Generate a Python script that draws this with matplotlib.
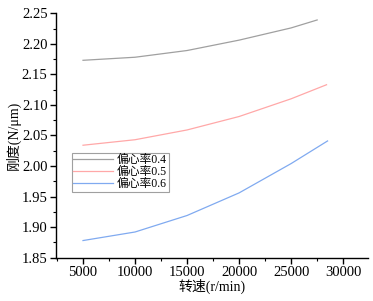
import matplotlib
matplotlib.use('Agg')
import matplotlib.pyplot as plt
from matplotlib.ticker import MultipleLocator, FormatStrFormatter

plt.rcParams['font.family'] = ['Liberation Serif', 'Noto Sans CJK SC']

# speed (r/min)
speed_04 = [5000, 10000, 15000, 20000, 25000, 27500]
speed_05 = [5000, 10000, 15000, 20000, 25000, 28400]
speed_06 = [5000, 10000, 15000, 20000, 25000, 28500]
# stiffness (N/um)
stiff_04 = [2.173, 2.178, 2.189, 2.206, 2.226, 2.239]
stiff_05 = [2.034, 2.043, 2.059, 2.081, 2.110, 2.133]
stiff_06 = [1.878, 1.892, 1.919, 1.956, 2.004, 2.041]
labels = ['偏心率0.4', '偏心率0.5', '偏心率0.6']

fig = plt.figure(figsize=(3.73, 3.01), dpi=100)
ax = fig.add_axes([0.150, 0.144, 0.837, 0.812])

ax.plot(speed_04, stiff_04, color='#a0a0a0', lw=0.9, label=labels[0])
ax.plot(speed_05, stiff_05, color='#ffa8a8', lw=0.9, label=labels[1])
ax.plot(speed_06, stiff_06, color='#80aaf0', lw=0.9, label=labels[2])

ax.set_xlim(2400, 32400)
ax.set_ylim(1.85, 2.25)
ax.xaxis.set_major_locator(MultipleLocator(5000))
ax.xaxis.set_minor_locator(MultipleLocator(2500))
ax.yaxis.set_major_locator(MultipleLocator(0.05))
ax.yaxis.set_minor_locator(MultipleLocator(0.025))
ax.yaxis.set_major_formatter(FormatStrFormatter('%.2f'))

for s in ['top', 'right']:
    ax.spines[s].set_visible(False)
for s in ['left', 'bottom']:
    ax.spines[s].set_linewidth(1.0)
ax.tick_params(which='major', direction='out', length=4, width=1.0, labelsize=10.5, pad=2)
ax.tick_params(which='minor', direction='out', length=2, width=0.8)

ax.set_xlabel('转速(r/min)', fontsize=10, labelpad=0)
ax.set_ylabel('刚度(N/μm)', fontsize=10, labelpad=1)

leg = ax.legend(loc='upper left', bbox_to_anchor=(0.05, 0.43), fontsize=8.5,
                frameon=True, fancybox=False, edgecolor='#888888',
                handlelength=3.4, handletextpad=0.3, borderpad=0.15,
                labelspacing=0.0, borderaxespad=0)
leg.get_frame().set_linewidth(0.8)

fig.savefig('out.png', dpi=100)
